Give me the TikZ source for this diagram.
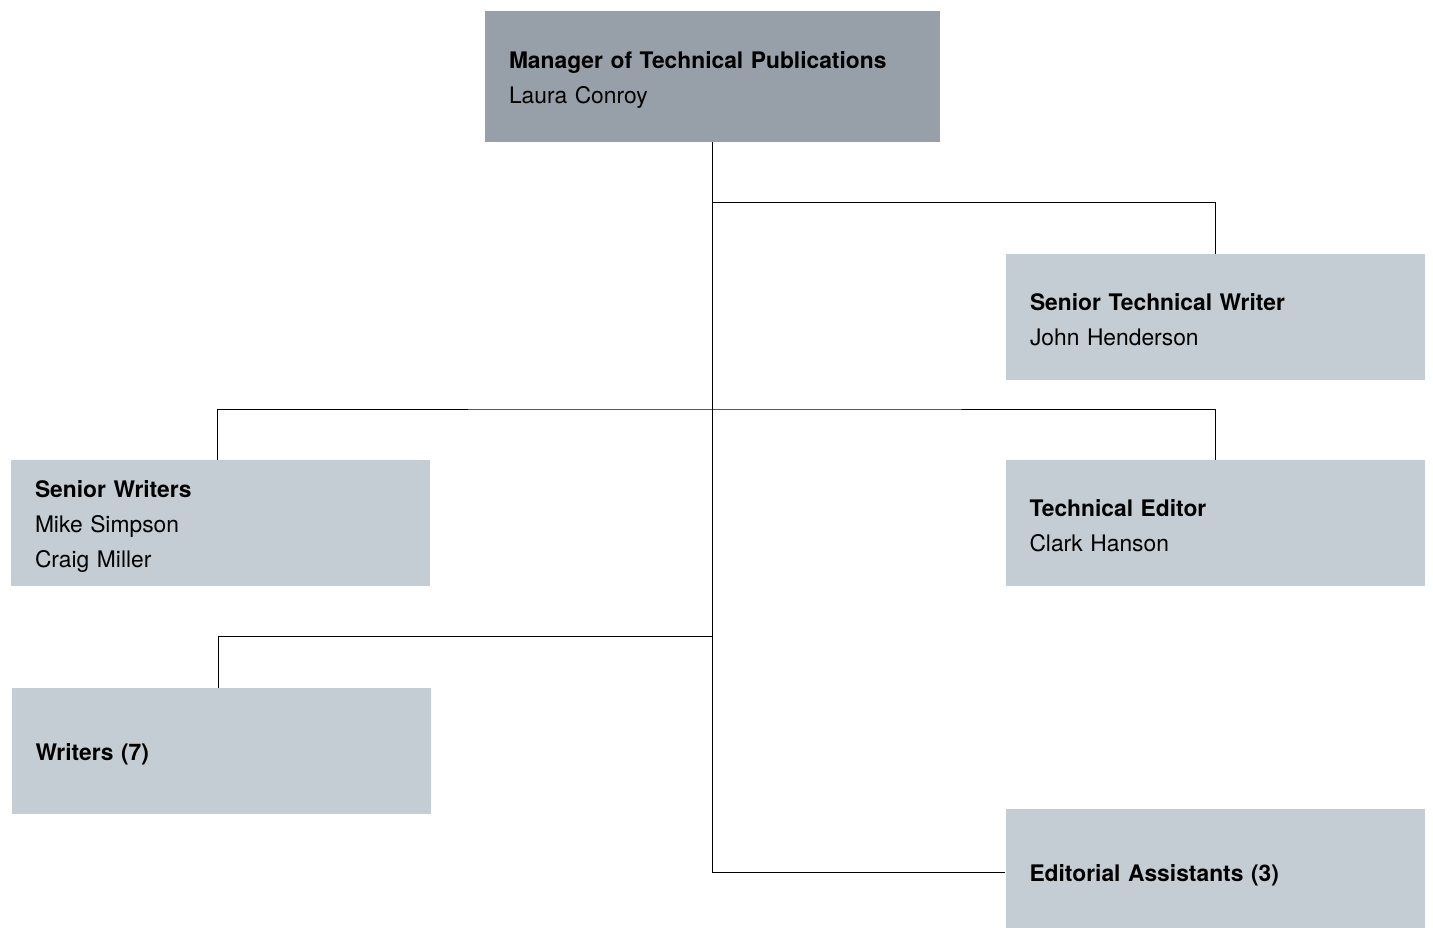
\documentclass[tikz,border=0pt]{standalone}
\usepackage{fontspec}
\setmainfont{TeX Gyre Heros}
\usepackage{tikz}
\definecolor{headgray}{HTML}{979FA8}
\definecolor{staffgray}{HTML}{C4CCD4}
\tikzset{
  head node/.style={rectangle,fill=headgray,font=\fontsize{22.8}{35}\selectfont,align=left,
    inner xsep=24pt,inner ysep=0pt,text width=407pt,minimum height=131pt,
    execute at begin node={\rule{0pt}{24pt}}},
  staff node/.style={rectangle,fill=staffgray,font=\fontsize{22.8}{35}\selectfont,align=left,
    inner xsep=24pt,inner ysep=0pt,text width=371pt,minimum height=126pt,
    execute at begin node={\rule{0pt}{23pt}}},
  org line/.style={draw,line width=1pt}
}
\begin{document}
\begin{tikzpicture}[x=1pt,y=-1pt]
  \useasboundingbox (0,0) rectangle (1433,928);
  \node [head node] (mgr) at (712.5,76.5) {\textbf{Manager of Technical Publications}\\Laura Conroy};
  \node [staff node] (stw) at (1215.5,317) {\textbf{Senior Technical Writer}\\John Henderson};
  \node [staff node] (sw) at (220.5,523) {\textbf{Senior Writers}\\Mike Simpson\\Craig Miller};
  \node [staff node] (ted) at (1215,523) {\textbf{Technical Editor}\\Clark Hanson};
  \node [staff node] (wr) at (221,751) {\textbf{Writers (7)}};
  \node [staff node] (eda) at (1215,872) {\textbf{Editorial Assistants (3)}};
  % junctions on the trunk
  \coordinate (j1) at (713,203);
  \coordinate (j2) at (713,409);
  \coordinate (j3) at (713,636);
  \draw [org line] (mgr.south) |- (eda.west);
  \draw [org line] (j1) -| (stw.north);
  \draw [org line] ([xshift=-3.5pt]sw.north) |- (j2) -| (ted.north);
  \draw [org line] (j3) -| ([xshift=-3pt]wr.north);
\end{tikzpicture}
\end{document}
